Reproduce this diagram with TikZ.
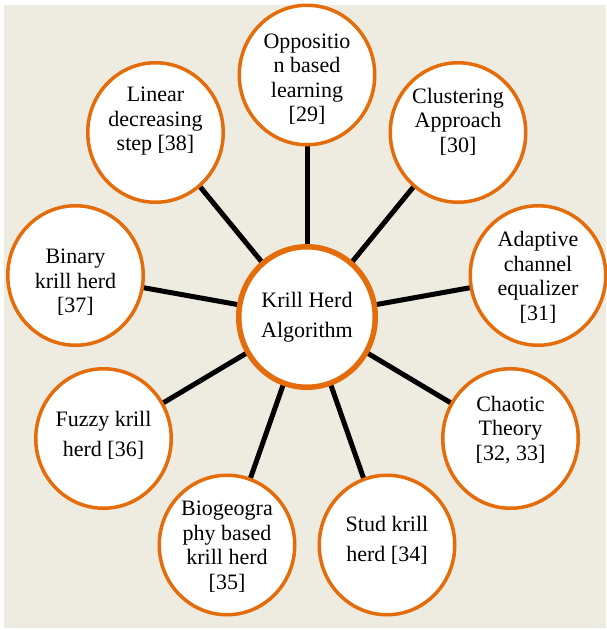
\documentclass[tikz,border=0pt]{standalone}
\usepackage{fontspec}
\setmainfont{Liberation Serif}
\usetikzlibrary{shapes.geometric,backgrounds}
\definecolor{krillorange}{RGB}{228,108,10}
\definecolor{paper}{RGB}{238,236,225}
\tikzset{
  bubble/.style={ellipse, draw=krillorange, fill=white, line width=3.5pt,
    minimum width=135.5pt, minimum height=139.5pt, inner sep=0pt},
  hub/.style={bubble, line width=5.5pt, minimum width=136.5pt, minimum height=140.5pt,
    align=center, font=\rmfamily\fontsize{22}{30}\selectfont},
  caption/.style={align=center, inner sep=0pt, font=\rmfamily\fontsize{22}{24.5}\selectfont},
  wide/.style={caption, font=\rmfamily\fontsize{22}{30}\selectfont},
  spoke/.style={line width=5pt, black}
}

\begin{document}
\begin{tikzpicture}[x=1pt, y=-1pt]
\useasboundingbox (0,0) rectangle (606,630);

% centre
\node[hub] (kha) at (307,317) {Krill Herd\\Algorithm};

% variants around it
\node[bubble] (opp) at (307,75) {};
\node[bubble] (clu) at (458,132.5) {};
\node[bubble] (ace) at (538,275.5) {};
\node[bubble] (cha) at (510.5,438.5) {};
\node[bubble] (stu) at (387,545) {};
\node[bubble] (bbo) at (227,545) {};
\node[bubble] (fuz) at (103.5,438.5) {};
\node[bubble] (bin) at (75.5,275.5) {};
\node[bubble] (lin) at (155.5,132.5) {};

\node[caption] (opp-t) at ([yshift=-4pt]opp.center) {Oppositio\\n based\\learning\\{[29]}};
\node[caption] (clu-t) at ([yshift=11pt]clu.center) {Clustering\\Approach\\{[30]}};
\node[caption] (ace-t) at ([yshift=-2pt]ace.center) {Adaptive\\channel\\equalizer\\{[31]}};
\node[caption] (cha-t) at ([yshift=8.5pt]cha.center) {Chaotic\\Theory\\{[32, 33]}};
\node[wide]    (stu-t) at ([yshift=5pt]stu.center) {Stud krill\\herd [34]};
\node[caption] (bbo-t) at ([yshift=-1.5pt]bbo.center) {Biogeogra\\phy based\\krill herd\\{[35]}};
\node[wide]    (fuz-t) at ([yshift=3.5pt]fuz.center) {Fuzzy krill\\herd [36]};
\node[caption] (bin-t) at ([yshift=-7pt]bin.center) {Binary\\krill herd\\{[37]}};
\node[caption] (lin-t) at ([yshift=11pt]lin.center) {Linear\\decreasing\\step [38]};

\begin{scope}[on background layer]
  \fill[paper] (4,5) rectangle (606,628);
  \foreach \v in {opp,clu,ace,cha,stu,bbo,fuz,bin,lin}
    \draw[spoke] (kha.center) -- (\v.center);
\end{scope}
\end{tikzpicture}
\end{document}
